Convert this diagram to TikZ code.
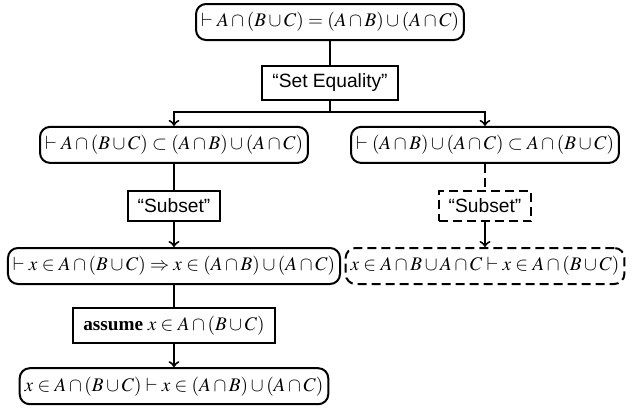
\documentclass[tikz,border=0pt]{standalone}
\usepackage{mathptmx}
\usepackage{amssymb}
\usepackage{amsmath}
\usepackage[no-math]{fontspec}
\setmainfont{Liberation Serif}
\setsansfont{Liberation Sans}
\usepackage{tikz}
\usetikzlibrary{positioning}

\begin{document}
\begin{tikzpicture}[line width=1pt, font=\fontsize{9.6pt}{12pt}\selectfont,
    goal/.style={draw, rounded corners=5pt, inner xsep=2.5pt, inner ysep=4.2pt},
    rulebox/.style={draw, inner xsep=5pt, inner ysep=4pt},
    guess/.style={dash pattern=on 4.5pt off 2.5pt}]

    \useasboundingbox (-165pt,11pt) rectangle (151pt,-193pt);

    \node[goal] (top) at (0,0) {$\vdash A\cap(B\cup C)=(A\cap B)\cup(A\cap C)$};
    \node[rulebox, below=12pt of top] (seteq) {\textsf{``Set Equality''}};

    % left branch
    \node[goal, below=12.5pt of seteq, xshift=-78pt] (lsub) {$\vdash A\cap(B\cup C)\subset(A\cap B)\cup(A\cap C)$};
    \node[rulebox, below=13pt of lsub] (lrule) {\textsf{``Subset''}};
    \node[goal, below=12.5pt of lrule] (lgoal) {$\vdash x\in A\cap(B\cup C)\Rightarrow x\in(A\cap B)\cup(A\cap C)$};
    \node[rulebox, below=11pt of lgoal] (assume) {\textbf{assume} $x\in A\cap(B\cup C)$};
    \node[goal, below=11.5pt of assume] (final) {$x\in A\cap(B\cup C)\vdash x\in(A\cap B)\cup(A\cap C)$};

    % right branch
    \node[goal, below=12.5pt of seteq, xshift=77.5pt] (rsub) {$\vdash(A\cap B)\cup(A\cap C)\subset A\cap(B\cup C)$};
    \node[rulebox, guess, below=13pt of rsub] (rrule) {\textsf{``Subset''}};
    \node[goal, guess, below=12.5pt of rrule] (rgoal) {$x\in A\cap B\cup A\cap C\vdash x\in A\cap(B\cup C)$};

    \draw (top) -- (seteq);
    \draw (seteq.south) -- ++(0,-5.5pt) coordinate (split);
    \draw[->] (split) -| (lsub);
    \draw[->] (split) -| (rsub);

    \draw (lsub) -- (lrule);
    \draw[->] (lrule) -- (lgoal);
    \draw (lgoal) -- (assume);
    \draw[->] (assume) -- (final);

    \draw[guess] (rsub) -- (rrule);
    \draw[->] (rrule) -- (rgoal);

\end{tikzpicture}
\end{document}
